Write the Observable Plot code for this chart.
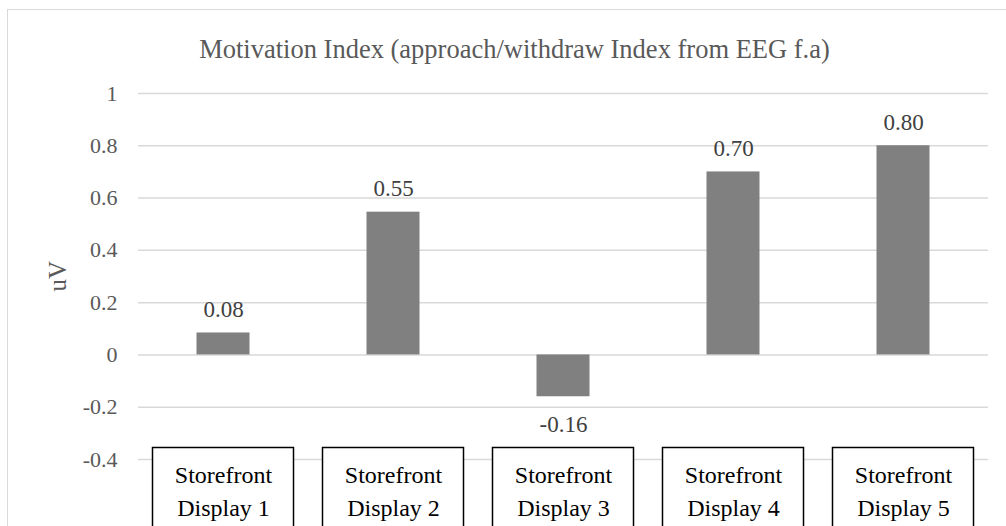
<!DOCTYPE html>
<html>
<head>
<meta charset="utf-8">
<script src="https://cdn.jsdelivr.net/npm/d3@7"></script>
<script src="https://cdn.jsdelivr.net/npm/@observablehq/plot@0.6"></script>
<style>
  html, body { margin: 0; padding: 0; background: #fff; overflow: hidden; }
  #wrap { position: relative; width: 1006px; height: 526px; }
  #wrap svg, #wrap svg text { font-family: "Liberation Serif", "DejaVu Serif", serif !important; }
  #border { position: absolute; left: 7px; top: 9px; width: 1010px; height: 530px;
            border: 1.5px solid #d9d9d9; pointer-events: none; }
</style>
</head>
<body>
<div id="wrap"><div id="border"></div></div>
<script>
const title = "Motivation Index (approach/withdraw Index from EEG f.a)";
const yLabel = "uV";
const categories = ["Storefront\nDisplay 1", "Storefront\nDisplay 2", "Storefront\nDisplay 3", "Storefront\nDisplay 4", "Storefront\nDisplay 5"];
const values = [0.084, 0.546, -0.16, 0.70, 0.80];
const valueLabels = ["0.08", "0.55", "-0.16", "0.70", "0.80"];
const yTicks = [-0.4, -0.2, 0, 0.2, 0.4, 0.6, 0.8, 1];

const data = categories.map((c, i) => ({cat: c, v: values[i], label: valueLabels[i]}));
const font = "Liberation Serif";

const chart = Plot.plot({
  width: 1006,
  height: 526,
  marginLeft: 138,
  marginRight: 18,
  marginTop: 93,
  marginBottom: 67,
  style: {fontFamily: font, background: "transparent", overflow: "visible"},
  x: {domain: categories, padding: 0, axis: null},
  y: {domain: [-0.4, 1], ticks: yTicks, label: null, tickSize: 0, tickPadding: 21,
      tickFormat: d => String(Math.round(d * 10) / 10)},
  marks: [
    Plot.ruleY(yTicks, {stroke: "#d9d9d9", strokeWidth: 1.5}),
    Plot.axisY({ticks: yTicks, tickSize: 0, tickPadding: 21, fontSize: 22, color: "#595959",
      label: null, fontFamily: font, tickFormat: d => String(Math.round(d * 10) / 10)}),
    Plot.barY(data, {x: "cat", y: "v", fill: "#808080", insetLeft: 58.5, insetRight: 58.5}),
    Plot.text(data.filter(d => d.v >= 0), {x: "cat", y: "v", text: "label", lineAnchor: "bottom",
      dy: -16, fontSize: 23, fill: "#404040", fontFamily: font}),
    Plot.text(data.filter(d => d.v < 0), {x: "cat", y: "v", text: "label", lineAnchor: "top",
      dy: 19, fontSize: 23, fill: "#404040", fontFamily: font}),
    Plot.barY(data, {x: "cat", y1: -0.356, y2: -0.75, fill: "white", stroke: "black",
      strokeWidth: 1.5, insetLeft: 14.5, insetRight: 14.5}),
    Plot.text(data, {x: "cat", y: -0.356, text: "cat", lineAnchor: "top", dy: 11,
      lineHeight: 1.4, fontSize: 24, fill: "#000", fontFamily: font}),
    Plot.text([title], {frameAnchor: "top", dx: -49, dy: -36, lineAnchor: "bottom",
      fontSize: 26.5, fill: "#595959", fontFamily: font}),
    Plot.text([yLabel], {frameAnchor: "left", dx: -81, dy: 15, rotate: -90, fontSize: 25, fill: "#595959", fontFamily: font})
  ]
});
document.getElementById("wrap").insertBefore(chart, document.getElementById("border"));
</script>
</body>
</html>
